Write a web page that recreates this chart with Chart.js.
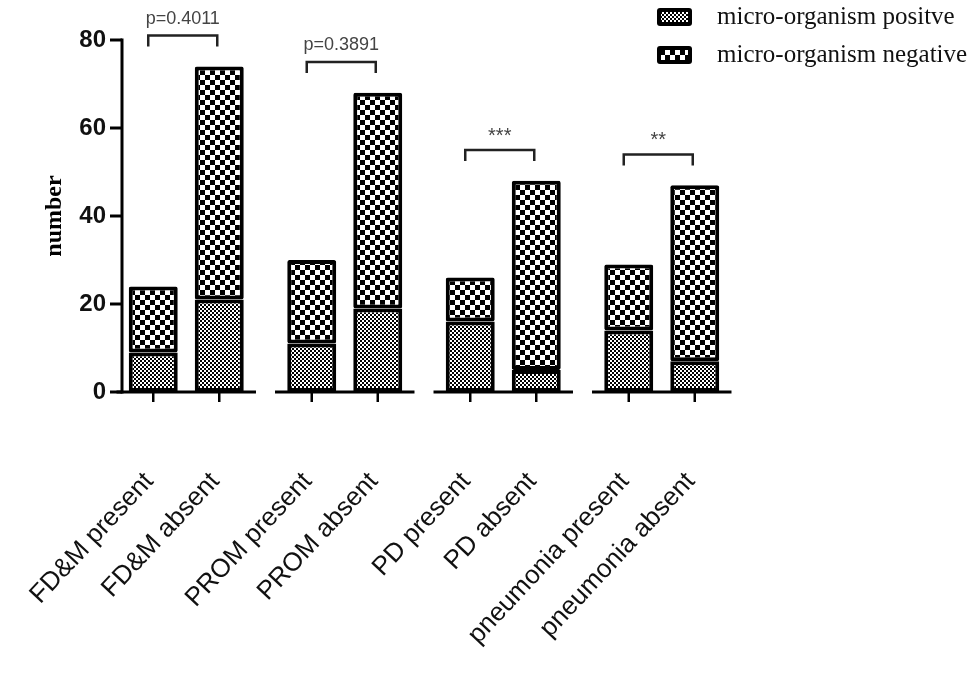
<!DOCTYPE html>
<html>
<head>
<meta charset="utf-8">
<script src="https://cdn.jsdelivr.net/npm/chart.js@4.4.1/dist/chart.umd.min.js"></script>
<style>
  html, body { margin: 0; padding: 0; background: #fff; }
  #wrap { width: 974px; height: 675px; position: relative; }
</style>
</head>
<body>
<div id="wrap"><canvas id="myChart"></canvas></div>
<script>
// groups, two bars per group (present / absent)
const groups = ['FD&M', 'PROM', 'PD', 'pneumonia'];
const barLabels = ['FD&M present', 'FD&M absent', 'PROM present', 'PROM absent',
                   'PD present', 'PD absent', 'pneumonia present', 'pneumonia absent'];
const seriesNames = ['micro-organism positve', 'micro-organism negative'];

const positivePresent = [9, 11, 16, 14];
const negativePresent = [15, 19, 10, 15];
const positiveAbsent = [21, 19, 5, 7];
const negativeAbsent = [53, 49, 43, 40];

const significance = ['p=0.4011', 'p=0.3891', '***', '**'];
const yTicks = [0, 20, 40, 60, 80];

const canvas = document.getElementById('myChart');
const mainCtx = canvas.getContext('2d');

function checker(cell) {
  const c = document.createElement('canvas');
  c.width = c.height = cell * 2;
  const g = c.getContext('2d');
  g.fillStyle = '#fff';
  g.fillRect(0, 0, cell * 2, cell * 2);
  g.fillStyle = '#000';
  g.fillRect(0, 0, cell, cell);
  g.fillRect(cell, cell, cell, cell);
  return mainCtx.createPattern(c, 'repeat');
}

const finePattern = checker(2);    // positive
const coarsePattern = checker(5);  // negative

const barStyle = {
  borderColor: '#000',
  borderWidth: 4,
  borderSkipped: false,
  borderRadius: 2,
  categoryPercentage: 0.833,
  barPercentage: 0.742
};

const decor = {
  id: 'decor',
  afterDatasetsDraw(chart) {
    const { ctx, chartArea: area, scales: { x, y } } = chart;
    const base = y.getPixelForValue(0);
    const axisX = area.left + 15;
    const slot = x.getPixelForValue(1) - x.getPixelForValue(0);

    const line = (x1, y1, x2, y2) => {
      ctx.beginPath(); ctx.moveTo(x1, y1); ctx.lineTo(x2, y2); ctx.stroke();
    };

    ctx.save();
    ctx.strokeStyle = '#000';
    ctx.lineWidth = 3;

    // y axis with ticks
    line(axisX, y.getPixelForValue(80) - 1.5, axisX, base + 1.5);
    yTicks.forEach(v => {
      const py = y.getPixelForValue(v);
      line(axisX - 12, py, axisX, py);
    });

    // broken baseline, one piece per group
    groups.forEach((g, i) => {
      const cx = x.getPixelForValue(i);
      line(cx - 0.44 * slot, base, cx + 0.44 * slot, base);
    });

    // bar centres
    const presentBars = chart.getDatasetMeta(1).data;
    const absentBars = chart.getDatasetMeta(3).data;
    const xs = [];
    groups.forEach((g, i) => xs.push(presentBars[i].x, absentBars[i].x));

    ctx.lineWidth = 2.5;
    xs.forEach(px => line(px, base, px, base + 10));

    // rotated category labels
    ctx.fillStyle = '#111';
    ctx.font = '26px "Liberation Sans", Arial, sans-serif';
    ctx.textAlign = 'right';
    ctx.textBaseline = 'middle';
    xs.forEach((px, k) => {
      ctx.save();
      ctx.translate(px - 4, base + 85);
      ctx.rotate(-47 * Math.PI / 180);
      ctx.fillText(barLabels[k], 0, 0);
      ctx.restore();
    });

    // significance brackets
    ctx.lineWidth = 2.5;
    ctx.strokeStyle = '#222';
    ctx.fillStyle = '#444';
    ctx.textAlign = 'center';
    ctx.textBaseline = 'middle';
    groups.forEach((g, i) => {
      const top = Math.max(positivePresent[i] + negativePresent[i],
                           positiveAbsent[i] + negativeAbsent[i]);
      const ly = y.getPixelForValue(top + 7);
      const x1 = presentBars[i].x - 5;
      const x2 = absentBars[i].x - 2;
      ctx.beginPath();
      ctx.moveTo(x1, ly + 11);
      ctx.lineTo(x1, ly);
      ctx.lineTo(x2, ly);
      ctx.lineTo(x2, ly + 11);
      ctx.stroke();
      const isStars = significance[i].startsWith('*');
      ctx.font = isStars ? '20px "Liberation Sans", Arial, sans-serif'
                         : '18px "Liberation Sans", Arial, sans-serif';
      ctx.fillText(significance[i], (x1 + x2) / 2, ly - (isStars ? 14 : 17));
    });

    // legend
    const fills = [finePattern, coarsePattern];
    ctx.textAlign = 'left';
    ctx.font = '25px "Liberation Serif", "Times New Roman", serif';
    seriesNames.forEach((name, k) => {
      const bx = 657, by = 8 + k * 38, bw = 35, bh = 18;
      ctx.fillStyle = '#000';
      ctx.beginPath();
      ctx.roundRect(bx, by, bw, bh, 3);
      ctx.fill();
      ctx.fillStyle = fills[k];
      ctx.fillRect(bx + 4, by + 4, bw - 8, bh - 8);
      ctx.fillStyle = '#111';
      ctx.fillText(name, 717, by + bh / 2);
    });
    ctx.restore();
  }
};

new Chart(canvas, {
  type: 'bar',
  data: {
    labels: groups,
    datasets: [
      { label: seriesNames[0], data: positivePresent, stack: 'present', backgroundColor: finePattern, ...barStyle },
      { label: seriesNames[1], data: negativePresent, stack: 'present', backgroundColor: coarsePattern, ...barStyle },
      { label: seriesNames[0], data: positiveAbsent, stack: 'absent', backgroundColor: finePattern, ...barStyle },
      { label: seriesNames[1], data: negativeAbsent, stack: 'absent', backgroundColor: coarsePattern, ...barStyle }
    ]
  },
  options: {
    responsive: true,
    maintainAspectRatio: false,
    animation: false,
    layout: { padding: { left: 0, right: 233, top: 40, bottom: 283 } },
    plugins: {
      legend: { display: false },
      tooltip: { enabled: false }
    },
    scales: {
      x: { display: false, stacked: true },
      y: {
        stacked: true,
        min: 0,
        max: 80,
        afterBuildTicks: s => { s.ticks = yTicks.map(v => ({ value: v })); },
        afterFit: s => { s.width = 107; },
        ticks: {
          color: '#111',
          padding: 1,
          font: { family: '"Liberation Sans", Arial, sans-serif', size: 24, weight: 'bold' }
        },
        grid: { display: false, drawTicks: false },
        border: { display: false },
        title: {
          display: true,
          text: 'number',
          color: '#000',
          padding: { top: 40, bottom: 0 },
          font: { family: '"Liberation Serif", "Times New Roman", serif', size: 24, weight: 'bold' }
        }
      }
    }
  },
  plugins: [decor]
});
</script>
</body>
</html>
